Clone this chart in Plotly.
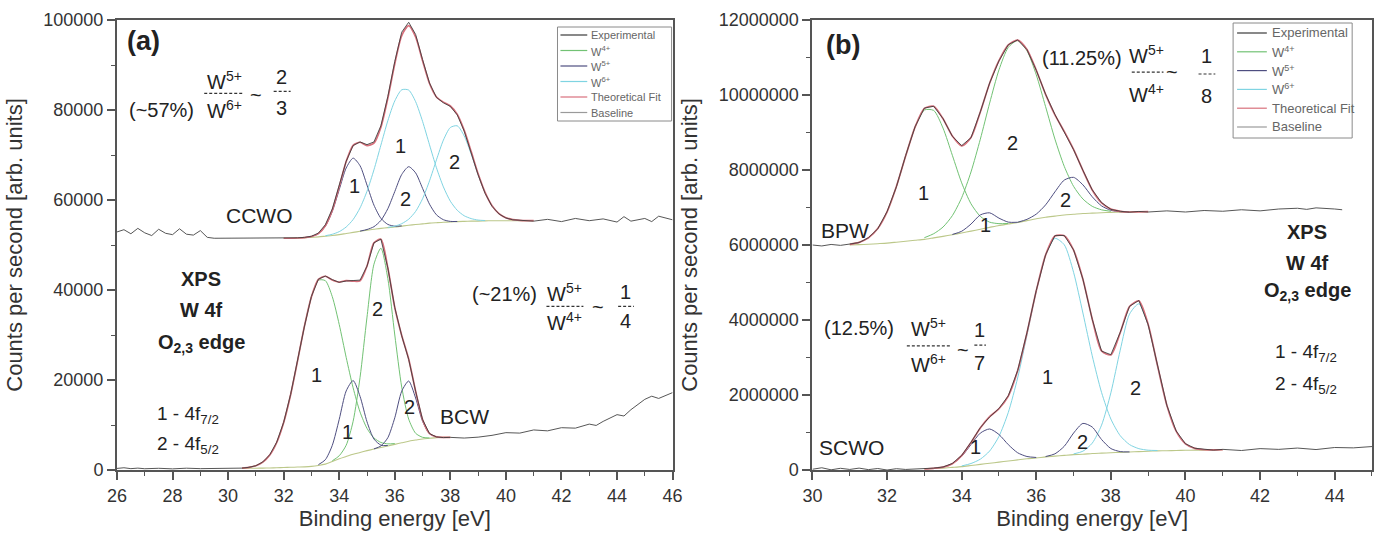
import plotly.graph_objects as go

# ------------------------------------------------------------------ data
# Panel (a) - CCWO (upper spectrum), fit window grid
ccwo_E = [32.0, 32.25, 32.5, 32.75, 33.0, 33.25, 33.5, 33.75, 34.0, 34.25, 34.5, 34.75,
          35.0, 35.25, 35.5, 35.75, 36.0, 36.25, 36.5, 36.75, 37.0, 37.25, 37.5, 37.75,
          38.0, 38.25, 38.5, 38.75, 39.0, 39.25, 39.5, 39.75, 40.0, 40.25, 40.5, 40.75, 41.0]
ccwo_base = [51500, 51500, 51550, 51600, 51700, 51800, 51950, 52100, 52300, 52550, 52800, 53050,
             53300, 53500, 53700, 53850, 54000, 54200, 54400, 54550, 54700, 54850, 54950, 55050,
             55100, 55200, 55250, 55300, 55300, 55350, 55400, 55400, 55400, 55400, 55400, 55400, 55400]
ccwo_fit = [51500, 51500, 51550, 51636, 51883, 52524, 54292, 57741, 62975, 68554, 72158, 72837,
            72092, 72635, 76189, 82630, 90280, 96539, 98766, 96236, 90930, 85889, 82894, 81743,
            80892, 79019, 75468, 70760, 65823, 61699, 58748, 56978, 56054, 55639, 55477, 55420, 55400]
N = None
ccwo_w5_1 = [N, N, N, 51636, 51883, 52524, 54182, 57458, 62307, 67111, 69300, 67611, 63307, 58858,
             55932, 54574, 54183, 54236] + [N] * 19
ccwo_w5_2 = [N] * 11 + [53079, 53444, 54071, 55459, 58071, 61885, 65673, 67400, 66023, 62585, 59071,
                        56709, 55621, 55244, 55229] + [N] * 11
ccwo_w6_1 = [N] * 6 + [52060, 52383, 52968, 53993, 55658, 58247, 61941, 66706, 72198, 77625, 82020,
                       84490, 84430, 81854, 77468, 72262, 67165, 62910, 59736, 57707, 56494, 55867,
                       55535, 55440] + [N] * 7
ccwo_w6_2 = [N] * 15 + [53910, 54192, 54740, 55736, 57459, 60277, 64256, 68920, 73312, 76112, 76483,
                        74224, 70193, 65588, 61609, 58748, 56978, 56054, 55639, 55477] + [N] * 2
ccwo_exp_E = [26.0, 26.25, 26.5, 26.75, 27.0, 27.25, 27.5, 27.75, 28.0, 28.25, 28.5, 28.75, 29.0,
              29.25, 29.5, 30.0, 30.5, 31.0, 31.5,
              32.0, 32.25, 32.5, 32.75, 33.0, 33.25, 33.5, 33.75, 34.0, 34.25, 34.5, 34.75, 35.0,
              35.25, 35.5, 35.75, 36.0, 36.25, 36.5, 36.75, 37.0, 37.25, 37.5, 37.75, 38.0, 38.25,
              38.5, 38.75, 39.0, 39.25, 39.5, 39.75, 40.0, 40.25, 40.5,
              41.0, 41.5, 42.0, 42.5, 43.0, 43.5, 44.0, 44.25, 44.5, 45.0, 45.25, 45.5, 46.0]
ccwo_exp = [52900, 53400, 52500, 53700, 52700, 52100, 53500, 52600, 52300, 53600, 52400, 52200, 53200,
            51700, 51500, 51500, 51500, 51450, 51500,
            51500, 51550, 51600, 51700, 51950, 52650, 54500, 58000, 63200, 68600, 72100, 72900, 72300,
            72900, 76500, 83000, 90800, 97300, 99500, 96800, 91200, 86000, 82800, 81600, 80800, 78900,
            75300, 70500, 65600, 61500, 58600, 56900, 56000, 55600, 55500,
            55300, 55700, 55200, 55900, 55400, 55800, 55100, 56300, 55300, 55900, 55200, 56400, 55600]

# Panel (a) - BCW (lower spectrum)
bcw_E = [30.5, 30.75, 31.0, 31.25, 31.5, 31.75, 32.0, 32.25, 32.5, 32.75, 33.0, 33.25, 33.5, 33.75,
         34.0, 34.25, 34.5, 34.75, 35.0, 35.25, 35.5, 35.75, 36.0, 36.25, 36.5, 36.75, 37.0, 37.25,
         37.5, 37.75, 38.0]
bcw_base = [350, 380, 400, 420, 450, 500, 550, 600, 650, 700, 800, 1000, 1300, 1900, 2500, 3000, 3500,
            3900, 4300, 4650, 5000, 5350, 5700, 6050, 6400, 6650, 6900, 7050, 7200, 7250, 7250]
bcw_fit = [425, 590, 955, 1743, 3314, 6115, 10544, 16727, 24251, 32024, 38511, 42359, 43061, 42231,
           41759, 42095, 41961, 42031, 45341, 50472, 51264, 44893, 36077, 29888, 24672, 17514, 11195,
           8108, 7350, 7250, 7250]
bcw_w4_1 = [425, 590, 955, 1743, 3314, 6115, 10544, 16727, 24251, 32024, 38511, 42176, 42078, 38524,
            32334, 25037, 18270, 12876, 9247, 7123, 6121, 5811, 5874] + [N] * 8
bcw_w4_2 = [N] * 13 + [2038, 3164, 5497, 10820, 20601, 33982, 45728, 49278, 42521, 29997, 18421, 11308,
                       8163, 7265, 7117] + [N] * 3
bcw_w5_1 = [N] * 11 + [1183, 2283, 5469, 11261, 17561, 19871, 16354, 10712, 6883, 5526, 5434] + [N] * 9
bcw_w5_2 = [N] * 19 + [4688, 5339, 7177, 11606, 17517, 19764, 16001, 10830, 8041, 7350] + [N] * 2
bcw_exp_E = [26.0, 26.25, 26.5, 26.75, 27.0, 27.5, 28.0, 28.5, 29.0, 29.5, 30.0, 30.5, 30.75,
             31.0, 31.25, 31.5, 31.75, 32.0, 32.25, 32.5, 32.75, 33.0, 33.25, 33.5, 33.75, 34.0, 34.25,
             34.5, 34.75, 35.0, 35.25, 35.5, 35.75, 36.0, 36.25, 36.5, 36.75, 37.0, 37.25, 37.5, 37.75,
             38.0, 38.5, 39.0, 39.5, 40.0, 40.5, 41.0, 41.5, 42.0, 42.5, 43.0, 43.25, 43.5, 44.0, 44.25,
             44.5, 45.0, 45.25, 45.5, 46.0]
bcw_exp = [350, 500, 300, 420, 280, 380, 250, 400, 300, 350, 280, 420, 600,
           950, 1800, 3400, 6200, 10600, 16800, 24300, 32000, 38600, 42400, 43100, 42300, 41700, 42000,
           42100, 42200, 45300, 50500, 51300, 44900, 36100, 29800, 24600, 17500, 11200, 8100, 7350, 7200,
           7250, 7100, 7300, 7700, 8300, 8200, 8900, 8700, 9400, 9300, 10200, 9900, 10800, 12300, 12000,
           13400, 15700, 16400, 15900, 17200]

# Panel (b) - BPW (upper spectrum)
bpw_E = [31.0, 31.25, 31.5, 31.75, 32.0, 32.25, 32.5, 32.75, 33.0, 33.25, 33.5, 33.75, 34.0, 34.25,
         34.5, 34.75, 35.0, 35.25, 35.5, 35.75, 36.0, 36.25, 36.5, 36.75, 37.0, 37.25, 37.5, 37.75,
         38.0, 38.25, 38.5, 38.75, 39.0]
bpw_base = [6000000, 6010000, 6020000, 6035000, 6050000, 6075000, 6100000, 6125000, 6150000, 6190000,
            6230000, 6275000, 6320000, 6370000, 6420000, 6470000, 6520000, 6560000, 6600000, 6650000,
            6700000, 6740000, 6770000, 6800000, 6820000, 6840000, 6850000, 6860000, 6870000, 6875000,
            6880000, 6885000, 6890000]
bpw_fit = [6019000, 6071000, 6189000, 6439000, 6884000, 7559000, 8379000, 9144000, 9644000, 9699000,
           9367000, 8906000, 8644000, 8865000, 9546000, 10312000, 10915000, 11334000, 11463000,
           11214000, 10661000, 10018000, 9471000, 9029000, 8548000, 7991000, 7468000, 7121000,
           6956000, 6898000, 6880000, 6885000, 6890000]
bpw_w4_1 = [6019000, 6071000, 6189000, 6439000, 6884000, 7559000, 8379000, 9144000, 9599000, 9588000,
            9118000, 8392000, 7658000, 7099000, 6763000, 6609000, 6569000, 6575000] + [N] * 15
bpw_w4_2 = [N] * 8 + [6195000, 6301000, 6479000, 6783000, 7260000, 7948000, 8821000, 9785000,
                      10670000, 11269000, 11450000, 11180000, 10537000, 9688000, 8824000, 8098000,
                      7564000, 7227000, 7032000, 6938000, 6900000] + [N] * 4
bpw_w5_1 = [N] * 11 + [6281000, 6366000, 6558000, 6802000, 6858000, 6716000, 6610000, 6606000] + [N] * 14
bpw_w5_2 = [N] * 18 + [6607000, 6684000, 6824000, 7070000, 7417000, 7731000, 7804000, 7604000,
                       7286000, 7043000, 6926000, 6888000, 6880000] + [N] * 2
bpw_exp_E = [30.0, 30.25, 30.5, 30.75,
             31.0, 31.25, 31.5, 31.75, 32.0, 32.25, 32.5, 32.75, 33.0, 33.25, 33.5, 33.75, 34.0, 34.25,
             34.5, 34.75, 35.0, 35.25, 35.5, 35.75, 36.0, 36.25, 36.5, 36.75, 37.0, 37.25, 37.5, 37.75,
             38.0, 38.25, 38.5, 38.75, 39.0,
             39.5, 40.0, 40.5, 41.0, 41.5, 42.0, 42.5, 43.0, 43.25, 43.5, 44.0, 44.2]
bpw_exp = [6000000, 5975000, 6015000, 5990000,
           6025000, 6065000, 6195000, 6430000, 6890000, 7550000, 8390000, 9150000, 9650000, 9700000,
           9370000, 8900000, 8650000, 8860000, 9550000, 10320000, 10910000, 11340000, 11470000,
           11210000, 10660000, 10020000, 9480000, 9020000, 8540000, 7990000, 7470000, 7130000,
           6950000, 6900000, 6875000, 6895000, 6880000,
           6910000, 6880000, 6920000, 6900000, 6940000, 6910000, 6960000, 6980000, 6950000, 6990000,
           6960000, 6940000]

# Panel (b) - SCWO (lower spectrum)
scwo_E = [33.0, 33.25, 33.5, 33.75, 34.0, 34.25, 34.5, 34.75, 35.0, 35.25, 35.5, 35.75, 36.0, 36.25,
          36.5, 36.75, 37.0, 37.25, 37.5, 37.75, 38.0, 38.25, 38.5, 38.75, 39.0, 39.25, 39.5, 39.75,
          40.0, 40.25, 40.5, 40.75, 41.0]
scwo_base = [30000, 40000, 50000, 70000, 90000, 120000, 150000, 180000, 210000, 240000, 270000, 300000,
             320000, 350000, 370000, 390000, 410000, 420000, 440000, 450000, 460000, 470000, 480000,
             490000, 500000, 510000, 515000, 520000, 525000, 530000, 530000, 535000, 540000]
scwo_fit = [30000, 45000, 76000, 169000, 382000, 731000, 1123000, 1421000, 1634000, 1972000, 2644000,
            3654000, 4780000, 5731000, 6238000, 6249000, 5865000, 5089000, 4028000, 3177000, 3070000,
            3661000, 4358000, 4511000, 3881000, 2783000, 1728000, 1036000, 699000, 576000, 540000,
            535000, 540000]
scwo_w6_1 = [N] * 4 + [108000, 173000, 289000, 507000, 897000, 1536000, 2454000, 3594000, 4766000,
                       5722000, 6177000, 6007000, 5271000, 4186000, 3047000, 2068000, 1358000, 916000,
                       678000, 569000, 528000, 520000] + [N] * 7
scwo_w6_2 = [N] * 16 + [429000, 501000, 716000, 1196000, 2060000, 3194000, 4158000, 4432000, 3853000,
                        2773000, 1728000, 1036000, 699000, 576000, 540000] + [N] * 2
scwo_w5_1 = [N] + [45000, 76000, 169000, 364000, 678000, 984000, 1094000, 947000, 676000, 460000,
                   360000, 334000] + [N] * 20
scwo_w5_2 = [N] * 13 + [359000, 431000, 632000, 985000, 1242000, 1145000, 813000, 572000, 491000,
                        482000] + [N] * 10
scwo_exp_E = [30.0, 30.25, 30.5, 30.75, 31.0, 31.25, 31.5, 31.75, 32.0, 32.25, 32.5, 32.75,
              33.0, 33.25, 33.5, 33.75, 34.0, 34.25, 34.5, 34.75, 35.0, 35.25, 35.5, 35.75, 36.0, 36.25,
              36.5, 36.75, 37.0, 37.25, 37.5, 37.75, 38.0, 38.25, 38.5, 38.75, 39.0, 39.25, 39.5, 39.75,
              40.0, 40.25, 40.5, 40.75, 41.0,
              41.5, 42.0, 42.5, 43.0, 43.5, 44.0, 44.5, 45.0]
scwo_exp = [20000, 60000, 5000, 45000, 15000, 50000, 10000, 40000, 0, 35000, 15000, 25000,
            35000, 50000, 80000, 175000, 390000, 740000, 1130000, 1415000, 1640000, 1980000, 2650000,
            3660000, 4790000, 5740000, 6250000, 6255000, 5870000, 5090000, 4020000, 3170000, 3075000,
            3670000, 4365000, 4520000, 3875000, 2780000, 1725000, 1040000, 700000, 580000, 545000,
            530000, 550000,
            520000, 570000, 550000, 585000, 545000, 600000, 590000, 625000]

legend_names = ["Experimental", "W<sup>4+</sup>", "W<sup>5+</sup>", "W<sup>6+</sup>",
                "Theoretical Fit", "Baseline"]

# ------------------------------------------------------------------ styles
C_EXP = "#3a3a3a"
C_W4 = "#72c274"
C_W5 = "#4e4e80"
C_W6 = "#7fd4e2"
C_FIT = "#d8707c"
C_BASE = "#bcc88a"
C_TXT = "#222222"
FONT = "Liberation Sans, Arial, sans-serif"
LBL = 20          # in-plot label size
NUM = 20          # peak number size

fig = go.Figure()


def line(x, y, color, width, xa, ya, smooth=True, opacity=1.0):
    fig.add_trace(go.Scatter(
        x=x, y=y, mode="lines", xaxis=xa, yaxis=ya, opacity=opacity,
        line=dict(color=color, width=width, shape="spline" if smooth else "linear",
                  smoothing=0.7),
        connectgaps=False, showlegend=False, hoverinfo="skip"))


def spectrum(E, base, comps, fit, exp_E, exp_y, xa, ya):
    line(E, base, C_BASE, 1.1, xa, ya)
    for ys, col in comps:
        line(E, ys, col, 1.0, xa, ya)
    line(E, fit, C_FIT, 1.7, xa, ya)
    line(exp_E, exp_y, C_EXP, 1.0, xa, ya, smooth=False, opacity=0.85)


spectrum(ccwo_E, ccwo_base, [(ccwo_w5_1, C_W5), (ccwo_w5_2, C_W5), (ccwo_w6_1, C_W6), (ccwo_w6_2, C_W6)],
         ccwo_fit, ccwo_exp_E, ccwo_exp, "x", "y")
spectrum(bcw_E, bcw_base, [(bcw_w4_1, C_W4), (bcw_w4_2, C_W4), (bcw_w5_1, C_W5), (bcw_w5_2, C_W5)],
         bcw_fit, bcw_exp_E, bcw_exp, "x", "y")
spectrum(bpw_E, bpw_base, [(bpw_w4_1, C_W4), (bpw_w4_2, C_W4), (bpw_w5_1, C_W5), (bpw_w5_2, C_W5)],
         bpw_fit, bpw_exp_E, bpw_exp, "x2", "y2")
spectrum(scwo_E, scwo_base, [(scwo_w6_1, C_W6), (scwo_w6_2, C_W6), (scwo_w5_1, C_W5), (scwo_w5_2, C_W5)],
         scwo_fit, scwo_exp_E, scwo_exp, "x2", "y2")

# ------------------------------------------------------------------ layout
L, R, T, B = 117, 4, 20, 66
W, H = 1386, 536
PW, PH = W - L - R, H - T - B


def px(x):
    return (x - L) / PW


def py(y):
    return (H - B - y) / PH


axis_common = dict(
    showline=True, linecolor="#555555", linewidth=2, mirror=True,
    ticks="outside", ticklen=8, tickwidth=1.5, tickcolor="#555555",
    showgrid=False, zeroline=False,
    tickfont=dict(size=18, color="#333333", family=FONT),
    minor=dict(ticks="outside", ticklen=4, tickwidth=1.2, tickcolor="#555555", showgrid=False),
)
xtitle = dict(text="Binding energy [eV]", font=dict(size=22, color="#333333", family=FONT), standoff=6)
ytitle = dict(text="Counts per second [arb. units]", font=dict(size=22, color="#333333", family=FONT),
              standoff=15)

fig.update_layout(
    width=W, height=H, margin=dict(l=L, r=R, t=T, b=B),
    paper_bgcolor="white", plot_bgcolor="white",
    font=dict(family=FONT, color=C_TXT), showlegend=False,
    xaxis=dict(domain=[0, px(677)], range=[26, 46], tick0=26, dtick=2, title=xtitle,
               **{**axis_common, "minor": {**axis_common["minor"], "dtick": 1}}),
    yaxis=dict(domain=[0, 1], range=[0, 100000], tick0=0, dtick=20000, tickformat="d", title=ytitle,
               **{**axis_common, "minor": {**axis_common["minor"], "dtick": 10000}}),
    xaxis2=dict(domain=[px(818), 1], range=[30, 45], tick0=30, dtick=2, anchor="y2", title=xtitle,
                **{**axis_common, "minor": {**axis_common["minor"], "dtick": 1}}),
    yaxis2=dict(domain=[0, 1], range=[0, 12000000], tick0=0, dtick=2000000, tickformat="d",
                anchor="x2", title=ytitle,
                **{**axis_common, "minor": {**axis_common["minor"], "dtick": 1000000}}),
)

annotations = []
shapes = []


def txt(x, y, s, size=LBL, ref="", xanchor="center", color=C_TXT):
    annotations.append(dict(x=x, y=y, xref="x" + ref, yref="y" + ref, text=s, showarrow=False,
                            xanchor=xanchor, yanchor="middle",
                            font=dict(size=size, color=color, family=FONT)))


def bar(x0, x1, y, ref=""):
    shapes.append(dict(type="line", xref="x" + ref, yref="y" + ref, x0=x0, x1=x1, y0=y, y1=y,
                       line=dict(color="#333333", width=1.2, dash="3px,2px")))


# ---- panel (a) texts
txt(26.3, 95300, "<b>(a)</b>", 27, xanchor="left")
txt(26.36, 80100, "(~57%)", LBL, xanchor="left")
txt(29.86, 86600, "W<sup>5+</sup>", LBL)
bar(29.14, 30.57, 83700)
txt(29.86, 80100, "W<sup>6+</sup>", LBL)
txt(31.0, 83300, "~", LBL)
txt(31.93, 87300, "2", LBL)
bar(31.64, 32.25, 84150)
txt(31.93, 80350, "3", LBL)
txt(31.14, 56470, "CCWO", 21)
for x, y, s in [(34.54, 63170, "1"), (36.21, 72100, "1"), (36.39, 60260, "2"), (38.14, 68520, "2"),
                (33.18, 21200, "1"), (34.29, 8480, "1"), (35.39, 35700, "2"), (36.54, 14060, "2")]:
    txt(x, y, s, NUM)
txt(38.5, 11830, "BCW", 21)
txt(29.04, 42400, "<b>XPS</b>", LBL)
txt(29.04, 35490, "<b>W 4f</b>", LBL)
txt(29.04, 28120, "<b>O<sub>2,3</sub> edge</b>", LBL)
txt(28.54, 12280, "1 - 4f<sub>7/2</sub>", 19)
txt(28.54, 5580, "2 - 4f<sub>5/2</sub>", 19)
txt(39.96, 39060, "(~21%)", LBL)
txt(42.11, 39500, "W<sup>5+</sup>", LBL)
bar(41.46, 42.79, 36380)
txt(42.11, 33030, "W<sup>4+</sup>", LBL)
txt(43.32, 36160, "~", LBL)
txt(44.32, 39500, "1", LBL)
bar(44.04, 44.61, 36380)
txt(44.32, 33030, "4", LBL)

# ---- panel (b) texts
txt(30.32, 11330000, "<b>(b)</b>", 27, "2", xanchor="left")
txt(37.23, 10990000, "(11.25%)", LBL, "2")
txt(38.96, 11070000, "W<sup>5+</sup>", LBL, "2")
bar(38.56, 39.41, 10610000, "2")
txt(38.96, 10050000, "W<sup>4+</sup>", LBL, "2")
txt(39.63, 10610000, "~", LBL, "2")
txt(40.56, 11040000, "1", LBL, "2")
bar(40.35, 40.80, 10560000, "2")
txt(40.56, 9970000, "8", LBL, "2")
txt(30.88, 6400000, "BPW", 21, "2")
for x, y, s in [(32.98, 7390000, "1"), (34.63, 6530000, "1"), (35.37, 8720000, "2"), (36.78, 7200000, "2"),
                (34.36, 610000, "1"), (36.30, 2480000, "1"), (37.23, 750000, "2"), (38.67, 2190000, "2")]:
    txt(x, y, s, NUM, "2")
txt(43.27, 6350000, "<b>XPS</b>", LBL, "2")
txt(43.27, 5520000, "<b>W 4f</b>", LBL, "2")
txt(43.27, 4750000, "<b>O<sub>2,3</sub> edge</b>", LBL, "2")
txt(43.24, 3120000, "1 - 4f<sub>7/2</sub>", 19, "2")
txt(43.24, 2270000, "2 - 4f<sub>5/2</sub>", 19, "2")
txt(31.25, 3790000, "(12.5%)", LBL, "2")
txt(33.11, 3790000, "W<sup>5+</sup>", LBL, "2")
bar(32.53, 33.70, 3310000, "2")
txt(33.11, 2850000, "W<sup>6+</sup>", LBL, "2")
txt(34.04, 3200000, "~", LBL, "2")
txt(34.49, 3730000, "1", LBL, "2")
bar(34.34, 34.65, 3330000, "2")
txt(34.49, 2850000, "7", LBL, "2")
txt(31.06, 587000, "SCWO", 21, "2")

# ---- legends (drawn as boxed keys in each panel)
legend_colors = [C_EXP, C_W4, C_W5, C_W6, C_FIT, "#9a9a9a"]


def legend_box(x0, y0, x1, y1, row0, step, lx0, lx1, tx, size):
    shapes.append(dict(type="rect", xref="paper", yref="paper", x0=px(x0), x1=px(x1), y0=py(y1), y1=py(y0),
                       line=dict(color="#8a8a8a", width=1), fillcolor="white", layer="above"))
    for i, (name, col) in enumerate(zip(legend_names, legend_colors)):
        yy = row0 + step * i
        shapes.append(dict(type="line", xref="paper", yref="paper", x0=px(lx0), x1=px(lx1),
                           y0=py(yy), y1=py(yy), line=dict(color=col, width=1.2), layer="above"))
        annotations.append(dict(x=px(tx), y=py(yy), xref="paper", yref="paper", text=name,
                                showarrow=False, xanchor="left", yanchor="middle",
                                font=dict(size=size, color="#666666", family=FONT)))


legend_box(561, 27, 676, 121, 35, 15.5, 564, 591, 593, 11)
legend_box(1242, 23, 1362, 138, 33, 18.8, 1246, 1276, 1279, 13)

fig.update_layout(annotations=annotations, shapes=shapes)
fig.write_html("out.html")
